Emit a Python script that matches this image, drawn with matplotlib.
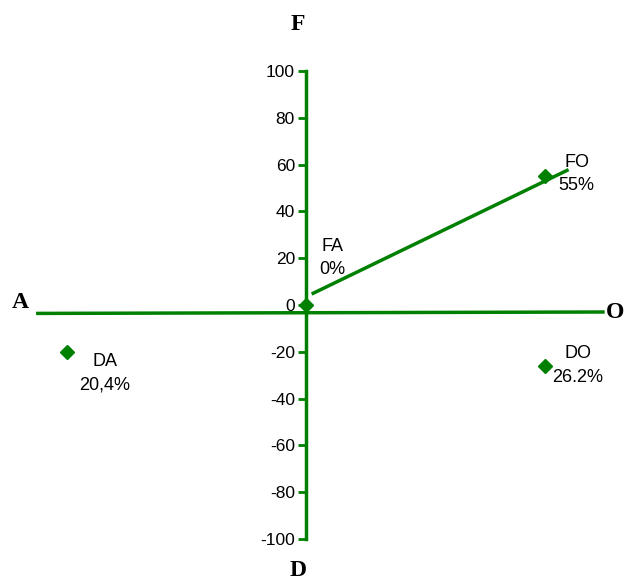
import matplotlib
matplotlib.use("Agg")
import matplotlib.pyplot as plt

plt.rcParams["axes.unicode_minus"] = False
GREEN = "#008000"

# data
point_names = ["FA", "FO", "DA", "DO"]
point_x = [0, 100, -100, 100]
point_y = [0, 55, -20, -26.2]
point_pct = ["0%", "55%", "20,4%", "26.2%"]

# horizontal A-O line and the FA-FO trend line
ao_x = [-112, 124]
ao_y = [-3.6, -3.0]
trend_x = [3, 109]
trend_y = [5, 57.5]

yticks = list(range(-100, 101, 20))

fig = plt.figure(figsize=(6.24, 5.8), dpi=100)
ax = fig.add_axes([0, 0, 1, 1])
ax.set_xlim(-127.8, 132.8)
ax.set_ylim(-117.5, 130.3)

for s in ["top", "right", "bottom"]:
    ax.spines[s].set_visible(False)
ax.spines["left"].set_position(("data", 0))
ax.spines["left"].set_bounds(-100, 100)
ax.spines["left"].set_color(GREEN)
ax.spines["left"].set_linewidth(2.5)
ax.set_xticks([])
ax.set_yticks(yticks)
ax.tick_params(axis="y", direction="out", length=6, width=2, color=GREEN,
               labelsize=12.5, labelcolor="black", pad=2)
for lab in ax.get_yticklabels():
    lab.set_fontfamily("Liberation Sans")
ax.patch.set_alpha(0)

ax.plot(ao_x, ao_y, color=GREEN, lw=2.5, zorder=2)
ax.plot(trend_x, trend_y, color=GREEN, lw=2.5, zorder=2)
ax.plot(point_x, point_y, "D", color=GREEN, markersize=7, ls="none", zorder=3)

offsets = {"FA": (11, 20), "FO": (13, 1), "DA": (16, -9), "DO": (13.6, 0.3)}
for n, x, y, p in zip(point_names, point_x, point_y, point_pct):
    dx, dy = offsets[n]
    ax.text(x + dx, y + dy, f"{n}\n{p}", ha="center", va="center",
            fontsize=13, family="Liberation Sans", linespacing=1.5)

serif = dict(family="Liberation Serif", fontweight="bold", fontsize=17,
             ha="center", va="center")
fig.text(20 / 624, 1 - 303 / 580, "A", **serif)
fig.text(615 / 624, 1 - 312 / 580, "O", **serif)
fig.text(298 / 624, 1 - 25 / 580, "F", **serif)
fig.text(298 / 624, 1 - 571 / 580, "D", **serif)

fig.savefig("out.png", dpi=100)
